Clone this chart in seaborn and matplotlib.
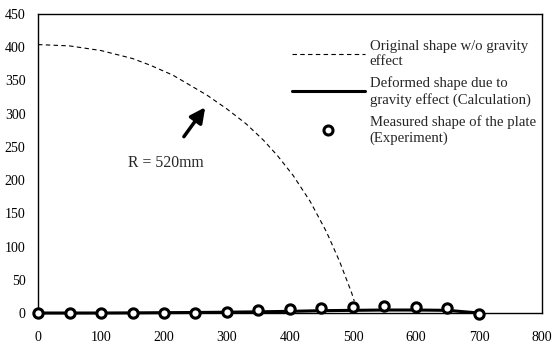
import numpy as np
import pandas as pd
import seaborn as sns
import matplotlib
matplotlib.use('Agg')
import matplotlib.pyplot as plt
from matplotlib.lines import Line2D

sns.set_style('white')
plt.rcParams['font.family'] = ['Liberation Serif', 'DejaVu Serif']
plt.rcParams['font.size'] = 10

# original shape (dashed arc, R = 520 mm)
orig_x = [0, 50, 100, 150, 178, 214, 268, 300, 330, 358, 380, 405, 432, 458, 479, 498, 502]
orig_y = [404, 402, 395, 383, 373, 358, 328, 307, 285, 260, 237, 207, 168, 122, 77, 30, 18]

# deformed shape from calculation
calc_x = [0, 50, 100, 150, 200, 250, 300, 350, 400, 450, 500, 550, 600, 650, 700]
calc_y = [0, 0, 0, 0.2, 0.5, 0.8, 1.2, 1.8, 2.5, 3.5, 4, 4.5, 4.5, 4, 0]

# measured shape
meas_x = [0, 50, 100, 150, 200, 250, 300, 350, 400, 450, 500, 550, 600, 650, 700]
meas_y = [0.5, 0.5, 0.5, 0.3, 0.3, 0.3, 2, 4.5, 6, 7, 9.5, 11, 9.5, 7.5, -1]

df_orig = pd.DataFrame({'x': orig_x, 'y': orig_y})
df_calc = pd.DataFrame({'x': calc_x, 'y': calc_y})
df_meas = pd.DataFrame({'x': meas_x, 'y': meas_y})

fig = plt.figure(figsize=(5.55, 3.44), dpi=100)
ax = fig.add_axes([0.0685, 0.0901, 0.908, 0.8692])

sns.lineplot(data=df_orig, x='x', y='y', ax=ax, color='black', lw=0.8,
             linestyle=(0, (4, 3)), sort=False)
sns.lineplot(data=df_calc, x='x', y='y', ax=ax, color='black', lw=2.2,
             sort=False, clip_on=False)
sns.scatterplot(data=df_meas, x='x', y='y', ax=ax, marker='o', s=45,
                facecolor='white', edgecolor='black', linewidth=2.2,
                zorder=5, clip_on=False)

ax.set_xlim(0, 800)
ax.set_ylim(0, 450)
ax.set_xticks(range(0, 801, 100))
ax.set_yticks(range(0, 451, 50))
ax.set_xlabel('')
ax.set_ylabel('')
ax.tick_params(axis='both', direction='out', length=3, width=0.8,
               labelsize=10, colors='black', pad=6)
ax.tick_params(axis='x', pad=10)
for sp in ax.spines.values():
    sp.set_visible(True)
    sp.set_color('black')
    sp.set_linewidth(1.0)

ax.annotate('', xy=(268, 313), xytext=(229, 262),
            arrowprops=dict(arrowstyle='-|>,head_length=0.9,head_width=0.45',
                            color='black', lw=2.5))
ax.text(203, 226, 'R = 520mm', ha='center', va='center', fontsize=11.3)

handles = [
    Line2D([], [], color='black', lw=0.8, linestyle=(0, (4, 3))),
    Line2D([], [], color='black', lw=2.2),
    Line2D([], [], color='white', marker='o', markersize=6.5,
           markerfacecolor='white', markeredgecolor='black', markeredgewidth=2.2),
]
labels = ['Original shape w/o gravity\neffect',
          'Deformed shape due to\ngravity effect (Calculation)',
          'Measured shape of the plate\n(Experiment)']
ax.legend(handles, labels, loc='upper right', bbox_to_anchor=(1.014, 0.958),
          frameon=False, fontsize=10.6, handlelength=5.0, handletextpad=0.3,
          labelspacing=0.6)

fig.savefig('out.png', dpi=100)
